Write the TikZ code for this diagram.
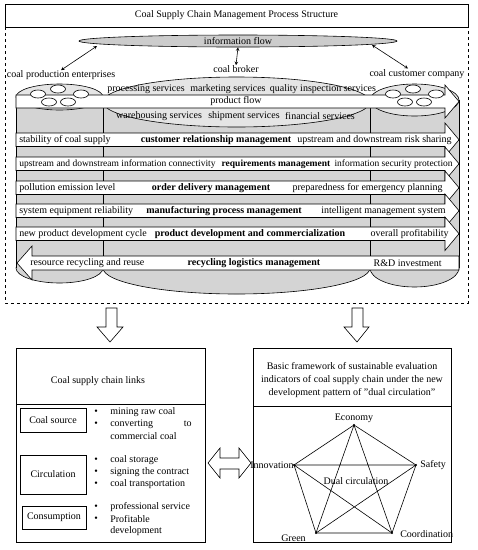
\documentclass[tikz,border=0pt]{standalone}
\usepackage{fontspec}
\setmainfont{Liberation Serif}
\usetikzlibrary{shapes.geometric,positioning}

\tikzset{
  txt/.style={inner sep=0pt,font=\fontsize{10}{12}\selectfont},
  bld/.style={txt,font=\fontsize{10}{12}\selectfont\bfseries},
  band/.style={draw,fill=white},
  body/.style={draw,fill=gray!34},
  lid/.style={draw,fill=gray!20},
  hole/.style={draw,fill=white},
  hollow/.style={draw,fill=white},
  linkbox/.style={draw,txt,minimum width=66pt},
}

\begin{document}
\begin{tikzpicture}[x=1pt,y=-1pt,>=stealth,line width=0.6pt]
\useasboundingbox (0,0) rectangle (478,550);

\draw (5,27) -- (5,4) -- (468,4) -- (468,27) -- cycle;
\node[txt] (title) at (236.5,15.5) {Coal Supply Chain Management Process Structure};
\draw[dashed] (5,27) -- (5,303) -- (468,303) -- (468,27);

\node[draw,fill=gray!40,ellipse,inner sep=0pt,minimum width=318pt,minimum height=12pt,font=\fontsize{10}{12}\selectfont] (info) at (238,41) {information flow};
\node[txt] (prod) at (61,75) {coal production enterprises};
\node[txt] (broker) at (236,69) {coal broker};
\node[txt] (cust) at (417,74) {coal customer company};
\coordinate (il) at (97,46);
\coordinate (ir) at (372,45);
\coordinate (ce) at (408,68.5);
\draw[<->] (il) -- (prod.north);
\draw[<->] (info.south) -- (broker.north);
\draw[<->] (ir) -- (ce);

\draw[body] (59.5,268) ellipse [x radius=43.5,y radius=15];
\draw[body] (236.5,268) ellipse [x radius=133.5,y radius=26];
\draw[body] (414.5,268) ellipse [x radius=44.5,y radius=19];
\fill[gray!34] (16,97) rectangle (459,268);
\draw (16,97) -- (16,268) (103,97) -- (103,268) (370,100) -- (370,268) (459,100) -- (459,268);
\draw[lid] (59.5,97) ellipse [x radius=43.5,y radius=13];
\draw[lid] (236.5,102) ellipse [x radius=133.5,y radius=25];
\draw[lid] (414.5,100) ellipse [x radius=44.5,y radius=16];

\draw[band] (16,95) -- (445,95) -- (445,85) -- (459,101.5) -- (445,118) -- (445,108) -- (16,108) -- cycle;
\foreach \hx/\hy in {58/89,38/94,81/94,49/102,68/102,413/89,393/94,436/94,405/102,424/102}
  \draw[hole] (\hx,\hy) ellipse [x radius=7.5,y radius=4];

\node[txt] (proc) at (146,89) {processing services};
\node[txt] (mark) at (228,89) {marketing services};
\node[txt] (qual) at (323,89) {quality inspection services};
\node[txt] (flow) at (236,101.5) {product flow};
\node[txt] (ware) at (159,116) {warehousing services};
\node[txt] (ship) at (244,116) {shipment services};
\node[txt] (fin) at (320,116) {financial services};

\foreach \t/\lt/\mt/\mx/\rt/\rx/\fs [count=\i] in {
  133/stability of coal supply/customer relationship management/216/upstream and downstream risk sharing/452/10,
  157/upstream and downstream information connectivity/requirements management/276/information security protection/453/9.5,
  181/pollution emission level/order delivery management/211/preparedness for emergency planning/443/10,
  204/system equipment reliability/manufacturing process management/224/intelligent management system/446/10,
  227/new product development cycle/product development and commercialization/250/overall profitability/449/10}{
  \draw[band] (16,\t) -- (445,\t) -- (445,\t-10) -- (459,\t+6.75) -- (445,\t+23.5) -- (445,\t+13.5) -- (16,\t+13.5) -- cycle;
  \node[txt,anchor=west,font=\fontsize{\fs}{12}\selectfont] (lft\i) at (19,\t+6.75) {\lt};
  \node[bld,font=\fontsize{\fs}{12}\selectfont\bfseries] (mid\i) at (\mx,\t+6.75) {\mt};
  \node[txt,anchor=east,font=\fontsize{\fs}{12}\selectfont] (rgt\i) at (\rx,\t+6.75) {\rt};
}
\draw[band] (459,256) -- (32,256) -- (32,246) -- (17,263) -- (32,280) -- (32,270) -- (459,270) -- cycle;
\node[txt,anchor=west] (lft6) at (30,263) {resource recycling and reuse};
\node[bld] (mid6) at (254,263) {recycling logistics management};
\node[txt,anchor=east] (rgt6) at (442,263) {R\&D investment};

\draw[hollow] (106,308) -- (117,308) -- (117,327) -- (123,327) -- (110,342) -- (97,327) -- (106,327) -- cycle;
\draw[hollow] (352,308) -- (363,308) -- (363,327) -- (369,327) -- (357,342) -- (344,327) -- (352,327) -- cycle;

\draw (16,348) rectangle (205,542);
\draw (16,404) -- (205,404);
\node[txt] (links) at (98,381) {Coal supply chain links};
\node[linkbox,minimum height=24pt] (src) at (53,420) {Coal source};
\node[linkbox,minimum height=39pt] (circ) at (53,474.5) {Circulation};
\node[linkbox,minimum width=64pt,minimum height=23pt] (cons) at (54,517.5) {Consumption};
\foreach \by in {412,424,460,472,484,507,519}
  \node[txt] at (96,\by) {\textbullet};
\node[txt,anchor=west] (s1) at (110,412) {mining raw coal};
\node[txt,anchor=west] (s2) at (110,424) {converting};
\node[txt,anchor=east] (s3) at (192,424) {to};
\node[txt,anchor=west] (s4) at (110,436) {commercial coal};
\node[txt,anchor=west] (c1) at (110,460) {coal storage};
\node[txt,anchor=west] (c2) at (110,472) {signing the contract};
\node[txt,anchor=west] (c3) at (110,484) {coal transportation};
\node[txt,anchor=west] (u1) at (110,507) {professional service};
\node[txt,anchor=west] (u2) at (110,519) {Profitable};
\node[txt,anchor=west] (u3) at (110,531) {development};

\draw[hollow] (208,463) -- (220,448) -- (220,458) -- (239,458) -- (239,448) -- (251,463) -- (239,478) -- (239,469) -- (220,469) -- (220,478) -- cycle;

\draw (253,348) rectangle (451,542);
\draw (253,406) -- (451,406);
\node[txt,align=center,font=\fontsize{10}{13}\selectfont] (frame) at (352,380) {Basic framework of sustainable evaluation\\indicators of coal supply chain under the new\\development pattern of "dual circulation"};
\coordinate (eco) at (354,425);
\coordinate (saf) at (416,465);
\coordinate (coo) at (392,533);
\coordinate (gre) at (316,533);
\coordinate (inn) at (294,465);
\draw (eco) -- (saf) -- (coo) -- (gre) -- (inn) -- cycle;
\draw (eco) -- (gre) (eco) -- (coo) (inn) -- (saf) (inn) -- (coo) (saf) -- (gre);
\foreach \v in {eco,saf,coo,gre,inn}
  \fill (\v) circle (1.2);
\node[txt,above=2pt of eco] (ecol) {Economy};
\node[txt,right=4pt of saf] (safl) {Safety};
\node[txt,left=0pt of inn] (innl) {Innovation};
\node[txt,anchor=east] (grel) at (306,538) {Green};
\node[txt,anchor=west] (cool) at (400,534) {Coordination};
\node[txt] (dual) at (356,481) {Dual circulation};
\end{tikzpicture}
\end{document}
